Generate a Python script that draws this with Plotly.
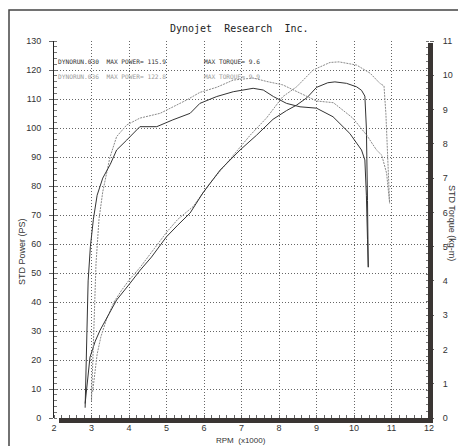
import plotly.graph_objects as go

# ---------------- data (read from the dyno sheet) ----------------
# Run 1 (DYNORUN.030) - dark trace
run1_power_rpm = [2.83, 2.88, 2.96, 3.10, 3.23, 3.45, 3.67, 4.03, 4.30, 4.60, 5.00, 5.30, 5.63,
                  5.97, 6.43, 6.96, 7.40, 7.84, 8.20, 8.47, 8.75, 9.00, 9.30, 9.49, 9.80,
                  10.07, 10.20, 10.29, 10.33, 10.36, 10.38]
run1_power_ps = [5, 12, 21, 26.5, 30.3, 35.5, 40.7, 46.5, 51, 55.5, 62.5, 66.5, 70.7,
                 77.6, 85.5, 92.4, 97.5, 103, 106, 107.9, 110.5, 114, 115.6, 115.9, 115.4,
                 114.2, 113, 111, 100, 75, 52]

run1_torque_rpm = [2.83, 2.87, 2.91, 2.97, 3.05, 3.15, 3.30, 3.50, 3.67, 3.94, 4.29, 4.74, 5.17,
                   5.63, 5.89, 6.34, 6.78, 7.31, 7.58, 7.85, 8.20, 8.56, 9.00, 9.44, 9.89,
                   10.07, 10.20, 10.29, 10.33, 10.36, 10.38]
run1_torque_kgm = [0.3, 2.0, 4.0, 5.0, 5.8, 6.5, 7.0, 7.4, 7.82, 8.11, 8.5, 8.5, 8.7,
                   8.89, 9.18, 9.38, 9.52, 9.62, 9.57, 9.38, 9.18, 9.08, 9.04, 8.79, 8.3,
                   8.02, 7.82, 7.53, 6.5, 5.2, 4.4]

# Run 2 - light trace
run2_power_rpm = [3.03, 3.08, 3.15, 3.25, 3.40, 3.60, 3.80, 4.00, 4.30, 4.65, 5.00, 5.30, 5.71,
                  6.16, 6.69, 7.23, 7.67, 8.10, 8.47, 8.91, 9.36, 9.60, 10.07, 10.43, 10.69,
                  10.80, 10.85, 10.90, 10.95]
run2_power_ps = [9, 15, 22, 28, 34, 40, 44, 47.5, 52, 58, 64, 68.5, 72.9,
                 81, 89, 97.5, 103.5, 110.8, 114.2, 120, 122.6, 122.8, 121.7, 118.9, 115.4,
                 114.5, 105, 90, 74]

run2_torque_rpm = [3.00, 3.05, 3.12, 3.20, 3.30, 3.49, 3.67, 3.94, 4.29, 4.83, 5.54, 5.89, 6.34,
                   6.78, 7.31, 7.67, 8.10, 8.56, 9.00, 9.45, 9.97, 10.34, 10.60, 10.74, 10.87,
                   10.95]
run2_torque_kgm = [0.5, 2.5, 4.5, 5.8, 6.6, 7.6, 8.21, 8.55, 8.75, 8.89, 9.28, 9.5, 9.65,
                   9.86, 9.92, 9.82, 9.72, 9.48, 9.25, 9.2, 8.75, 8.25, 7.82, 7.67, 7.14,
                   6.27]

x_ticks = [2, 3, 4, 5, 6, 7, 8, 9, 10, 11, 12]
power_ticks = [0, 10, 20, 30, 40, 50, 60, 70, 80, 90, 100, 110, 120, 130]
torque_ticks = [0, 1, 2, 3, 4, 5, 6, 7, 8, 9, 10, 11]

legend_lines = [
    ("DYNORUN.030  MAX POWER= 115.9", "MAX TORQUE= 9.6"),
    ("DYNORUN.036  MAX POWER= 122.8", "MAX TORQUE= 9.9"),
]

# ---------------- figure ----------------
OFF = 8  # page body margin of the browser
W, H = 466 - OFF, 446 - OFF
PL, PR, PT, PB = 54, 429, 41, 418  # plot area in page pixels
L, T = PL - OFF, PT - OFF
R, B = W - (PR - OFF), H - (PB - OFF)
pw, ph = PR - PL, PB - PT

DARK = "#333333"
LIGHT = "#8a8a8a"
GRID = "#666666"
TICKFONT = dict(family="Liberation Sans Narrow, Liberation Sans, Arial", size=9, color="#333")

fig = go.Figure()
fig.add_trace(go.Scatter(x=run2_power_rpm, y=run2_power_ps, mode="lines",
                         line=dict(color=LIGHT, width=1, dash="2px,1px"), yaxis="y"))
fig.add_trace(go.Scatter(x=run2_torque_rpm, y=run2_torque_kgm, mode="lines",
                         line=dict(color=LIGHT, width=1, dash="2px,1px"), yaxis="y2"))
fig.add_trace(go.Scatter(x=run1_power_rpm, y=run1_power_ps, mode="lines",
                         line=dict(color=DARK, width=1), yaxis="y"))
fig.add_trace(go.Scatter(x=run1_torque_rpm, y=run1_torque_kgm, mode="lines",
                         line=dict(color=DARK, width=1), yaxis="y2"))

def px_x(p):  # page pixel -> paper fraction
    return (p - PL) / pw

def px_y(p):
    return 1 - (p - PT) / ph

shapes = [
    # outer frame (left, top, right edges of the sheet)
    dict(type="path", xref="paper", yref="paper",
         path=f"M {px_x(9)},{px_y(446)} L {px_x(9)},{px_y(10)} L {px_x(462)},{px_y(10)} L {px_x(462)},{px_y(446)}",
         line=dict(color="#444", width=1.5), layer="below"),
    # thick bottom bar
    dict(type="rect", xref="paper", yref="paper", x0=px_x(59), x1=px_x(433), y0=px_y(423), y1=px_y(418),
         fillcolor="#3a3533", line=dict(width=0)),
    # thick right bar
    dict(type="rect", xref="paper", yref="paper", x0=px_x(428), x1=px_x(433), y0=px_y(423), y1=px_y(43),
         fillcolor="#3a3533", line=dict(width=0)),
]

annotations = [
    dict(text="Dynojet  Research  Inc.", xref="paper", yref="paper", x=px_x(239), y=px_y(21),
         showarrow=False, font=dict(family="DejaVu Sans Mono", size=10, color="#222")),
    dict(text="STD Power (PS)", xref="paper", yref="paper", x=px_x(15), y=px_y(252),
         showarrow=False, textangle=-90, font=dict(family="Liberation Sans Narrow, Liberation Sans", size=9, color="#333")),
    dict(text="STD Torque (kg-m)", xref="paper", yref="paper", x=px_x(459), y=px_y(223),
         showarrow=False, textangle=90, font=dict(family="Liberation Sans Narrow, Liberation Sans", size=9, color="#333")),
    dict(text="RPM  (x1000)", xref="paper", yref="paper", x=px_x(241), y=px_y(434.5),
         yanchor="top", showarrow=False, borderpad=0,
         font=dict(family="Liberation Sans Narrow, Liberation Sans", size=8, color="#333")),
]
legend_y = [56, 71]
legend_col = ["#333", "#9a9a9a"]
for (a, b), yy, cc in zip(legend_lines, legend_y, legend_col):
    annotations.append(dict(text=a, xref="paper", yref="paper", x=px_x(56), y=px_y(yy), xanchor="left",
                            showarrow=False, font=dict(family="DejaVu Sans Mono", size=6.2, color=cc)))
    annotations.append(dict(text=b, xref="paper", yref="paper", x=px_x(202), y=px_y(yy), xanchor="left",
                            showarrow=False, font=dict(family="DejaVu Sans Mono", size=6.2, color=cc)))

fig.update_layout(
    width=W, height=H,
    margin=dict(l=L, r=R, t=T, b=B, autoexpand=False),
    paper_bgcolor="white", plot_bgcolor="white",
    showlegend=False,
    shapes=shapes,
    annotations=annotations,
    xaxis=dict(range=[2, 12], tickvals=x_ticks, ticktext=[str(v) for v in x_ticks],
               showgrid=True, gridcolor=GRID, griddash="1px,2px", gridwidth=1,
               zeroline=False, showline=False, ticks="", tickfont=TICKFONT,
               ticklabelstandoff=3, automargin=False,
               minor=dict(ticks="inside", dtick=0.2, ticklen=3, tickcolor="#666", showgrid=False)),
    yaxis=dict(range=[0, 130], tickvals=power_ticks, ticktext=[str(v) for v in power_ticks],
               showgrid=True, gridcolor=GRID, griddash="1px,2px", gridwidth=1,
               zeroline=False, showline=True, linecolor="#222", linewidth=1,
               ticks="outside", ticklen=4, tickcolor="#666", tickfont=TICKFONT,
               ticklabelstandoff=6, automargin=False,
               minor=dict(ticks="inside", dtick=2, ticklen=3, tickcolor="#777", showgrid=False)),
    yaxis2=dict(range=[0, 11], tickvals=torque_ticks, ticktext=[str(v) for v in torque_ticks],
                overlaying="y", side="right", showgrid=False, zeroline=False, showline=False,
                ticks="outside", ticklen=4, tickcolor="#666", tickfont=TICKFONT,
                ticklabelstandoff=7, automargin=False,
                minor=dict(ticks="inside", dtick=0.2, ticklen=3, tickcolor="#777", showgrid=False)),
)

fig.write_html("out.html")
